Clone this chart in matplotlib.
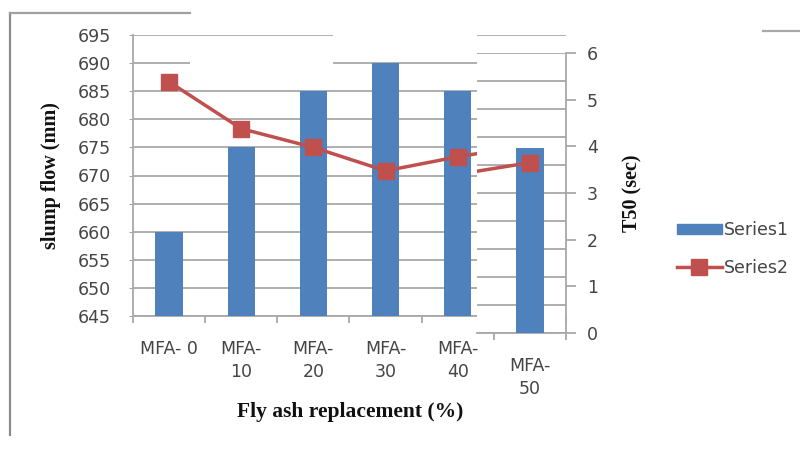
import matplotlib
matplotlib.use("Agg")
import matplotlib.pyplot as plt
from matplotlib.patches import Rectangle, Patch
from matplotlib.lines import Line2D
import numpy as np

# ---- data ----
categories = ["MFA- 0", "MFA-\n10", "MFA-\n20", "MFA-\n30", "MFA-\n40", "MFA-\n50"]
slump_flow = [660, 675, 685, 690, 685, 678]          # Series1 (mm)
t50 = [5.0, 4.0, 3.6, 3.1, 3.4, 3.65]                # Series2 (sec)
left_ticks = [645, 650, 655, 660, 665, 670, 675, 680, 685, 690, 695]
right_ticks = [0, 1, 2, 3, 4, 5, 6]

BLUE = "#4F81BD"
RED = "#C0504D"
GRID = "#a8a8a8"
TXT = "#454545"
SANS = "DejaVu Sans"
SERIF = "Liberation Serif"

W, H = 800, 450
fig = plt.figure(figsize=(W / 100, H / 100), dpi=100)
fig.patch.set_facecolor("white")


def px_rect(x0, y0, x1, y1):
    return [x0 / W, 1 - y1 / H, (x1 - x0) / W, (y1 - y0) / H]


x = np.arange(len(categories))

# ---- main (left) piece ----
axA = fig.add_axes(px_rect(133, 35, 566, 316))
axA2 = axA.twinx()
# ---- shifted (right) piece ----
axB = fig.add_axes(px_rect(477, 53, 566, 333))
axB2 = axB.twinx()

axA.set_zorder(1)
axA2.set_zorder(2)
axB.set_zorder(3)
axB2.set_zorder(4)
axA2.patch.set_visible(False)
axB2.patch.set_visible(False)
axB.patch.set_facecolor("white")

x_left_B = -0.5 + (477 - 133) / ((566 - 133) / len(categories))

for ax, ax2, xl in ((axA, axA2, (-0.5, 5.5)), (axB, axB2, (x_left_B, 5.5))):
    ax.bar(x, slump_flow, width=0.38, color=BLUE, zorder=3)
    ax.set_xlim(*xl)
    ax.set_ylim(left_ticks[0], left_ticks[-1])
    ax.set_yticks(left_ticks)
    ax.yaxis.grid(True, color=GRID, lw=1.3)
    ax.set_axisbelow(True)
    ax.set_xticks(x)
    ax.set_xticks(np.arange(-0.5, len(categories), 1.0), minor=True)
    ax.tick_params(axis="x", which="major", length=0, pad=17)
    ax.tick_params(axis="x", which="minor", length=5, color=GRID, width=1.3)
    for s in ("top", "right"):
        ax.spines[s].set_visible(False)
    ax.spines["bottom"].set_color(GRID)
    ax.spines["bottom"].set_linewidth(1.3)
    ax2.plot(x, t50, color=RED, lw=2.5, marker="s", ms=11, zorder=4)
    ax2.set_xlim(*xl)
    ax2.set_ylim(right_ticks[0], right_ticks[-1])
    for s in ("top", "left", "bottom"):
        ax2.spines[s].set_visible(False)

# left piece axes styling
axA.spines["left"].set_color(GRID)
axA.spines["left"].set_linewidth(1.3)
axA.tick_params(axis="y", length=3, color=GRID, pad=13, labelsize=12.5,
                labelcolor=TXT)
axA.set_xticklabels(categories[:-1] + [""], fontsize=12.5, color=TXT,
                    family=SANS, linespacing=1.35)
axA2.spines["right"].set_visible(False)
axA2.set_yticks([])
axA.set_ylabel("slump flow (mm)", family=SERIF, fontweight="bold",
               fontsize=14.5, color="#111111")
axA.yaxis.set_label_coords((61 - 133) / 433, 0.5)
axA.set_xlabel("Fly ash replacement (%)", family=SERIF, fontweight="bold",
               fontsize=15.5, color="#111111")
axA.xaxis.set_label_coords((350 - 133) / 433, (316 - 402) / 281)

# right piece styling
axB.spines["left"].set_visible(False)
axB.tick_params(axis="y", length=0, labelleft=False)
axB.set_xticklabels([""] * (len(categories) - 1) + [categories[-1]],
                    fontsize=12.5, color=TXT, family=SANS, linespacing=1.35)
axB2.set_yticks(right_ticks)
axB2.spines["right"].set_color(GRID)
axB2.spines["right"].set_linewidth(1.3)
axB2.tick_params(axis="y", length=7, color=GRID, width=1.3, pad=8,
                 labelsize=12.5, labelcolor=TXT)
axB2.set_ylabel("T50 (sec)", family=SERIF, fontweight="bold", fontsize=14.5,
                color="#111111")
axB2.yaxis.set_label_coords((622 - 477) / 89, 0.5)

# legend
handles = [Patch(facecolor=BLUE, edgecolor=BLUE),
           Line2D([0], [0], color=RED, lw=2.5, marker="s", ms=11)]
leg = fig.legend(handles, ["Series1", "Series2"], loc="center left",
                 bbox_to_anchor=(661 / W, 1 - 249 / H), frameon=False,
                 handlelength=2.6, handleheight=0.5, handletextpad=0.15,
                 labelspacing=1.15, prop={"family": SANS, "size": 12.5})
for t in leg.get_texts():
    t.set_color(TXT)
leg.set_zorder(20)

# collage artefacts: white covers and frame borders
for (x0, y0, x1, y1) in ((190, 52, 333, 72), (333, 25, 477, 46)):
    fig.add_artist(Rectangle((x0 / W, 1 - y1 / H), (x1 - x0) / W, (y1 - y0) / H,
                             transform=fig.transFigure, facecolor="white",
                             edgecolor="none", zorder=10))
for (xs, ys, c) in (((10, 10), (13, 435), "#8c8c8c"),
                    ((10, 190), (13, 13), "#a0a0a0"),
                    ((763, 800), (31, 31), "#a8a8a8")):
    fig.add_artist(Line2D([v / W for v in xs], [1 - v / H for v in ys],
                          transform=fig.transFigure, color=c, lw=1.6, zorder=11))

fig.savefig("out.png", dpi=100, facecolor="white")
